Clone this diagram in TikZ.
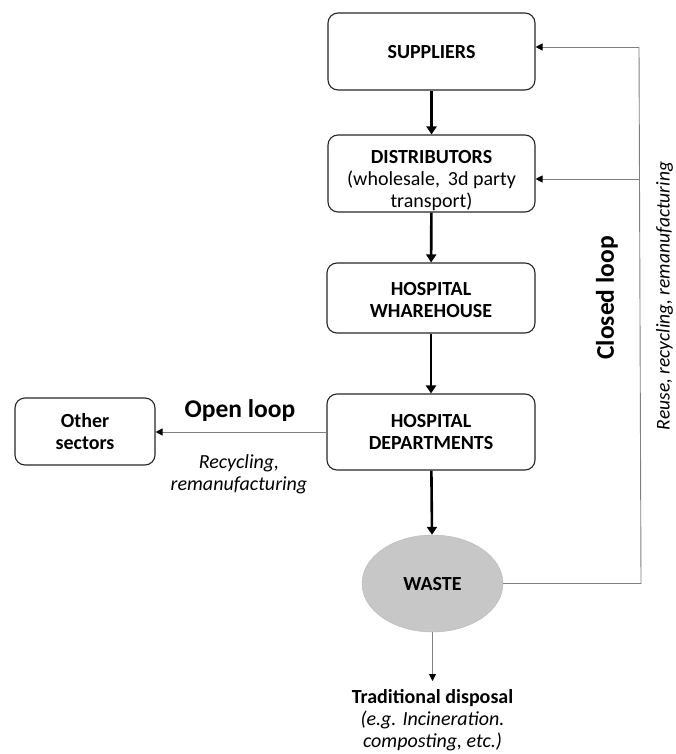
\documentclass[tikz,border=0pt]{standalone}
\usepackage{fontspec}
\setmainfont{Carlito}
\usetikzlibrary{arrows.meta,shapes.geometric}
\newcommand\topstrut{\rule{0pt}{16pt}}
\begin{document}
\begin{tikzpicture}[x=1pt,y=-1pt,
  box/.style={draw=black!85,line width=1.1pt,rounded corners=10pt,inner sep=0pt},
  lbl/.style={align=center,inner sep=0pt,anchor=north,font=\fontsize{20}{22}\selectfont},
  flow/.style={line width=2.6pt,-{Triangle[length=8pt,width=10pt]}},
  ret/.style={draw=black!50,line width=0.9pt,-{Triangle[length=7pt,width=7pt,color=black]}},
  plain/.style={draw=black!50,line width=0.9pt}]
\useasboundingbox (0,0) rectangle (676,754);
% boxes
\node[box,minimum width=207pt,minimum height=77pt] (sup) at (431.5,51.5) {};
\node[box,minimum width=207pt,minimum height=77pt] (dis) at (431.5,173.5) {};
\node[box,minimum width=208pt,minimum height=70pt] (wh) at (431,298) {};
\node[box,minimum width=208pt,minimum height=76pt] (dep) at (431,432) {};
\node[box,minimum width=140pt,minimum height=67pt] (oth) at (85,431.5) {};
\node[ellipse,draw=black!28,fill=black!22,minimum width=141pt,minimum height=97pt,inner sep=0pt] (waste) at (432.5,583.5) {};
% box texts
\node[lbl] (tsup) at (431.5,58-16) {\topstrut\textbf{SUPPLIERS}};
\node[lbl] (tdis) at (431.5,163-16) {\topstrut\textbf{DISTRIBUTORS}\\(wholesale, \,3d party\\transport)};
\node[lbl] (twh) at (431,295-16) {\topstrut\textbf{HOSPITAL}\\\textbf{WHAREHOUSE}};
\node[lbl] (tdep) at (431,427-16) {\topstrut\textbf{HOSPITAL}\\\textbf{DEPARTMENTS}};
\node[lbl] (toth) at (85,427-16) {\topstrut\textbf{Other}\\\textbf{sectors}};
\node[lbl] (twaste) at (432.5,590-16) {\topstrut\textbf{WASTE}};
\node[lbl] (trad) at (432.5,703-16) {\topstrut\textbf{Traditional disposal}\\\textit{(e.g. Incineration.}\\\textit{composting, etc.)}};
% connectors
\coordinate (c1) at (641,583.5);
\coordinate (c2) at (639,47);
\coordinate (c3) at (639,179);
\draw[flow] (sup) -- (dis);
\draw[flow] (dis) -- (wh);
\draw[flow] (wh) -- (dep);
\draw[flow] (dep) -- (waste);
\draw[ret] (waste) -- ([yshift=6pt]trad.north);
\draw[ret] (dep.west |- 0,432) -- (oth.east |- 0,432);
\draw[plain] (waste.east) -- (c1) -- (c2);
\draw[ret] (c2) -- (sup.east |- c2);
\draw[ret] (c3) -- (dis.east |- c3);
% labels
\node[anchor=base,inner sep=0pt,font=\fontsize{25.5}{28}\selectfont\bfseries] (ol) at (240,417) {Open loop};
\node[lbl,font=\fontsize{20}{22}\selectfont\itshape] (olt) at (239,468-16) {\topstrut Recycling,\\remanufacturing};
\node[rotate=90,inner sep=0pt,font=\fontsize{25.5}{28}\selectfont\bfseries] (cl) at (607,298) {Closed loop};
\node[rotate=90,inner sep=0pt,font=\fontsize{19.5}{22}\selectfont\itshape] (clt) at (664.5,296) {Reuse, recycling, remanufacturing};
\end{tikzpicture}
\end{document}
